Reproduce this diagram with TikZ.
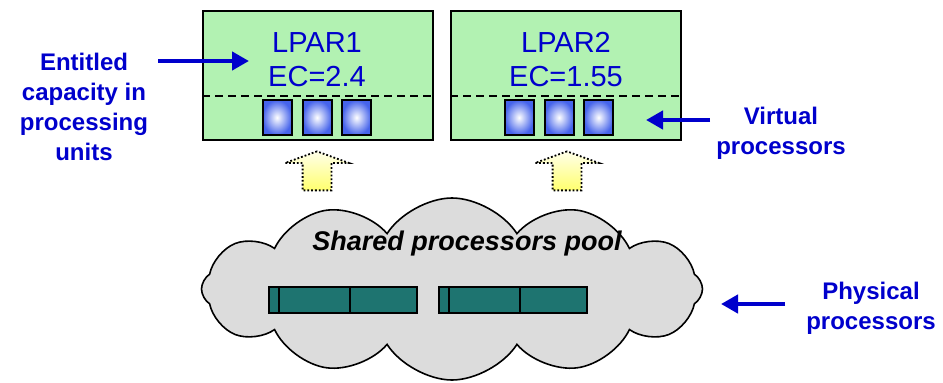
\documentclass[tikz,border=0pt]{standalone}
\usepackage{fontspec}
\setmainfont{Liberation Sans}
\usetikzlibrary{shapes.symbols,shapes.arrows,arrows.meta}
\definecolor{labelblue}{RGB}{0,0,204}
\definecolor{lpargreen}{RGB}{178,242,178}
\definecolor{vpblue}{RGB}{70,100,235}
\definecolor{poolgray}{RGB}{220,220,220}
\definecolor{ppteal}{RGB}{30,116,112}
\definecolor{upyellow}{RGB}{255,255,110}
\begin{document}
\begin{tikzpicture}[x=1pt,y=-1pt,
  lpar/.style={draw,line width=2pt,fill=lpargreen,minimum width=230pt,minimum height=129pt,inner sep=0pt},
  lpartext/.style={text=labelblue,font=\fontsize{29}{34}\selectfont,align=center},
  sepline/.style={line width=1.6pt,dash pattern=on 8pt off 5pt},
  vproc/.style={draw,line width=2pt,minimum width=29pt,minimum height=35pt,inner sep=0pt,inner color=white,outer color=vpblue},
  uparrow/.style={single arrow,shape border rotate=90,draw,line width=1.8pt,dotted,
    top color=upyellow!15,bottom color=upyellow,minimum height=39pt,inner sep=13.5pt,
    single arrow head extend=17.5pt,single arrow tip angle=140},
  pool/.style={cloud,cloud puffs=12,cloud puff arc=115,cloud ignores aspect,draw,line width=1.6pt,fill=poolgray,
    minimum width=501pt,minimum height=182pt},
  ppbar/.style={draw,line width=2pt,fill=ppteal,minimum width=148pt,minimum height=26pt,inner sep=0pt},
  bluelabel/.style={text=labelblue,font=\bfseries\fontsize{24}{30}\selectfont,align=center},
  bluearrow/.style={draw=labelblue,line width=4.5pt,-{Triangle[length=17pt,width=18pt]}}]
  \useasboundingbox (0,0) rectangle (943,383);

  % partitions
  \node[lpar] (lpar1) at (318,75.5) {};
  \node[lpar] (lpar2) at (566,75.5) {};
  \node[lpartext] (lpar1 name) at (317,60) {LPAR1\\EC=2.4};
  \node[lpartext] (lpar2 name) at (566,60) {LPAR2\\EC=1.55};
  \draw[sepline] (lpar1.west |- 0,96) -- (lpar1.east |- 0,96);
  \draw[sepline] (lpar2.west |- 0,96) -- (lpar2.east |- 0,96);

  % virtual processors
  \foreach \i/\x in {1/277,2/317,3/356.5}
    \node[vproc] (vp1\i) at (\x,117.5) {};
  \foreach \i/\x in {1/519,2/559,3/598.5}
    \node[vproc] (vp2\i) at (\x,117.5) {};

  % shared pool
  \node[pool] (pool) at (452,289) {};
  \node[font=\bfseries\itshape\fontsize{27}{32}\selectfont] (pool name) at (467,244) {Shared processors pool};
  \node[uparrow] (up1) at (317,173.5) {};
  \node[uparrow] (up2) at (567,173.5) {};

  % physical processors
  \node[ppbar] (pp1) at (343,300) {};
  \node[ppbar] (pp2) at (513,300) {};
  \foreach \p in {pp1,pp2}
    \foreach \d in {11,82}
      \draw[line width=2pt] ([xshift=\d pt]\p.north west) -- ([xshift=\d pt]\p.south west);

  % labels
  \node[bluelabel] (entitled) at (84,107) {Entitled\\capacity in\\processing\\units};
  \node[bluelabel] (virtual) at (781,133) {Virtual\\processors};
  \node[bluelabel] (physical) at (871,308) {Physical\\processors};
  \coordinate (entitled tail) at (158,61);
  \coordinate (entitled tip) at (249,61);
  \coordinate (virtual tail) at (710,120);
  \coordinate (virtual tip) at (646,120);
  \coordinate (physical tail) at (785,304);
  \coordinate (physical tip) at (721,304);
  \draw[bluearrow] (entitled tail) -- (entitled tip);
  \draw[bluearrow] (virtual tail) -- (virtual tip);
  \draw[bluearrow] (physical tail) -- (physical tip);
\end{tikzpicture}
\end{document}
